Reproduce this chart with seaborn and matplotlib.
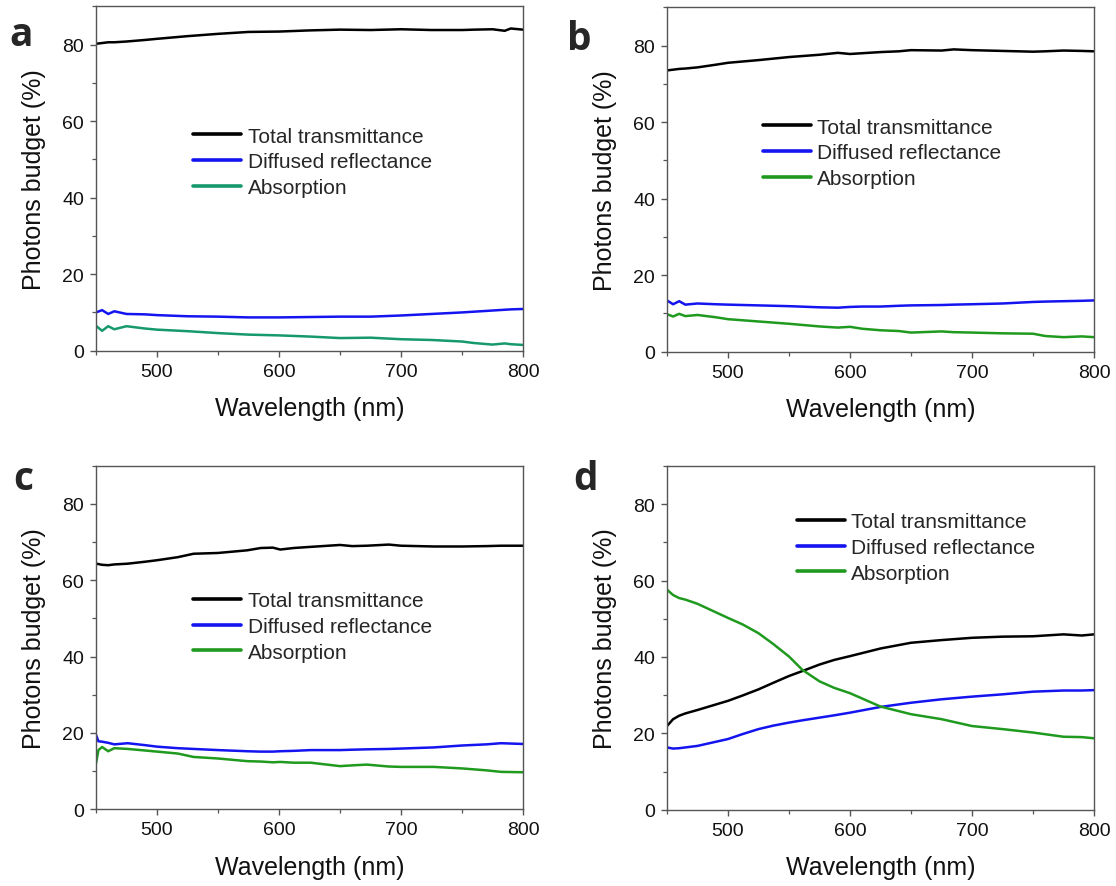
import numpy as np
import pandas as pd
import matplotlib
matplotlib.use("Agg")
import matplotlib.pyplot as plt
from matplotlib.lines import Line2D
import seaborn as sns

# ---------------- data ----------------
series_names = ["Total transmittance", "Diffused reflectance", "Absorption"]
panel_letters = ["a", "b", "c", "d"]
x_ticks = [500, 600, 700, 800]
y_ticks = [0, 20, 40, 60, 80]

# panel a
wl_a = [450, 455, 460, 465, 475, 490, 500, 525, 550, 575, 600, 625, 650, 675, 700, 725, 750, 760, 775, 785, 790, 800]
T_a = [80.2, 80.4, 80.6, 80.6, 80.8, 81.2, 81.5, 82.2, 82.8, 83.3, 83.4, 83.7, 83.9, 83.8, 84.0, 83.8, 83.8, 83.9, 84.0, 83.6, 84.2, 83.9]
D_a = [10.0, 10.6, 9.6, 10.3, 9.6, 9.5, 9.3, 9.0, 8.9, 8.7, 8.7, 8.8, 8.9, 8.9, 9.2, 9.6, 10.0, 10.2, 10.5, 10.7, 10.8, 10.9]
A_a = [6.5, 5.2, 6.4, 5.6, 6.4, 5.8, 5.5, 5.1, 4.6, 4.2, 4.0, 3.7, 3.3, 3.4, 3.0, 2.8, 2.4, 2.0, 1.6, 1.9, 1.7, 1.5]

# panel b
wl_b = [450, 455, 460, 465, 475, 490, 500, 525, 550, 575, 590, 600, 610, 625, 640, 650, 675, 685, 700, 725, 750, 760, 775, 790, 800]
T_b = [73.5, 73.7, 73.9, 74.0, 74.3, 75.0, 75.5, 76.2, 77.0, 77.6, 78.1, 77.8, 78.0, 78.3, 78.5, 78.8, 78.7, 79.0, 78.8, 78.6, 78.4, 78.5, 78.7, 78.6, 78.5]
D_b = [13.4, 12.4, 13.2, 12.3, 12.6, 12.4, 12.3, 12.1, 11.9, 11.6, 11.5, 11.7, 11.8, 11.8, 12.0, 12.1, 12.2, 12.3, 12.4, 12.6, 13.0, 13.1, 13.2, 13.3, 13.4]
A_b = [9.8, 9.2, 9.9, 9.3, 9.6, 9.0, 8.5, 7.9, 7.3, 6.6, 6.3, 6.5, 6.0, 5.6, 5.4, 5.0, 5.3, 5.1, 5.0, 4.8, 4.7, 4.1, 3.8, 4.0, 3.8]

# panel c
wl_c = [450, 452, 455, 460, 465, 476, 490, 500, 517, 530, 550, 574, 585, 595, 601, 612, 626, 650, 660, 672, 690, 700, 727, 750, 770, 782, 800]
T_c = [64.3, 64.2, 64.0, 63.9, 64.1, 64.3, 64.8, 65.2, 66.0, 66.9, 67.1, 67.8, 68.4, 68.5, 68.0, 68.4, 68.7, 69.2, 68.9, 69.0, 69.3, 69.0, 68.8, 68.8, 68.9, 69.0, 69.0]
D_c = [19.5, 17.8, 17.7, 17.4, 17.0, 17.3, 16.8, 16.4, 16.0, 15.8, 15.5, 15.2, 15.1, 15.1, 15.2, 15.3, 15.5, 15.5, 15.6, 15.7, 15.8, 15.9, 16.2, 16.7, 17.0, 17.3, 17.1]
A_c = [12.0, 15.5, 16.3, 15.2, 16.0, 15.8, 15.4, 15.1, 14.6, 13.7, 13.3, 12.6, 12.5, 12.3, 12.4, 12.2, 12.2, 11.3, 11.5, 11.7, 11.2, 11.1, 11.1, 10.7, 10.2, 9.8, 9.7]

# panel d
wl_d = [450, 455, 460, 465, 475, 500, 512, 525, 537, 550, 561, 575, 587, 600, 625, 650, 675, 700, 725, 750, 775, 790, 800]
T_d = [21.9, 23.7, 24.6, 25.2, 26.1, 28.5, 29.9, 31.5, 33.2, 35.0, 36.3, 38.0, 39.2, 40.2, 42.2, 43.7, 44.4, 45.0, 45.3, 45.4, 45.9, 45.6, 45.9]
D_d = [16.3, 16.0, 16.1, 16.3, 16.7, 18.5, 19.8, 21.1, 22.0, 22.8, 23.4, 24.1, 24.7, 25.4, 26.9, 28.0, 28.9, 29.6, 30.2, 30.9, 31.2, 31.2, 31.3]
A_d = [57.6, 56.2, 55.4, 55.0, 53.9, 50.2, 48.5, 46.2, 43.4, 40.1, 36.6, 33.6, 31.9, 30.5, 27.0, 25.0, 23.7, 21.9, 21.1, 20.2, 19.1, 19.0, 18.7]

panels = [
    (wl_a, T_a, D_a, A_a),
    (wl_b, T_b, D_b, A_b),
    (wl_c, T_c, D_c, A_c),
    (wl_d, T_d, D_d, A_d),
]

# ---------------- style ----------------
sns.set_style("ticks")
plt.rcParams["font.family"] = ["Liberation Sans", "DejaVu Sans"]

green_a = "#16996c"
green_other = "#1f9a1f"
blue = "#1414f0"
palettes = [
    {"Total transmittance": "black", "Diffused reflectance": blue, "Absorption": green_a},
    {"Total transmittance": "black", "Diffused reflectance": blue, "Absorption": green_other},
    {"Total transmittance": "black", "Diffused reflectance": blue, "Absorption": green_other},
    {"Total transmittance": "black", "Diffused reflectance": blue, "Absorption": green_other},
]

W, H = 1116, 887
fig = plt.figure(figsize=(W / 100, H / 100), dpi=100)

# axes rectangles in pixels: left, top, right, bottom
rects_px = [
    (96, 7.3, 523, 351.7),
    (667, 8.3, 1094, 352.7),
    (96, 466.5, 523, 810.3),
    (667, 466.9, 1094, 810.7),
]
legend_anchor = [(0.228, 0.548), (0.225, 0.577), (0.228, 0.532), (0.304, 0.763)]
letter_pos = [(9, 46), (567, 50), (13, 490), (573, 490)]

spine_col = "#555555"

for i, (wl, T, D, A) in enumerate(panels):
    l, t, r, b = rects_px[i]
    ax = fig.add_axes([l / W, (H - b) / H, (r - l) / W, (b - t) / H])
    df = pd.DataFrame({
        "Wavelength": list(wl) * 3,
        "Value": list(T) + list(D) + list(A),
        "Series": [series_names[0]] * len(wl) + [series_names[1]] * len(wl) + [series_names[2]] * len(wl),
    })
    sns.lineplot(data=df, x="Wavelength", y="Value", hue="Series", palette=palettes[i],
                 hue_order=series_names, estimator=None, sort=False, legend=False,
                 linewidth=1.8, ax=ax)
    ax.set_xlim(450, 800)
    ax.set_ylim(0, 90)
    ax.set_xticks(x_ticks)
    ax.set_xticks(np.arange(450, 801, 50), minor=True)
    ax.set_yticks(y_ticks)
    ax.set_yticks(np.arange(10, 91, 20), minor=True)
    ax.tick_params(axis="both", which="major", direction="out", length=4.5, width=1.0,
                   color=spine_col, labelsize=14, pad=4, labelcolor="#111111")
    ax.tick_params(axis="both", which="minor", direction="out", length=2.8, width=0.9,
                   color=spine_col)
    ax.tick_params(top=False, right=False, which="both")
    for s in ax.spines.values():
        s.set_visible(True)
        s.set_color(spine_col)
        s.set_linewidth(1.0)
    ax.set_xlabel("Wavelength (nm)", fontsize=18, labelpad=12, color="#111111")
    ax.set_ylabel("Photons budget (%)", fontsize=18, labelpad=12, color="#111111")

    handles = [Line2D([0], [0], color=palettes[i][n], lw=2.6) for n in series_names]
    ax.legend(handles, series_names, loc="center left", bbox_to_anchor=legend_anchor[i],
              frameon=False, borderpad=0, borderaxespad=0, handlelength=2.3,
              handletextpad=0.3, labelspacing=0.33, fontsize=15)

    lx, ly = letter_pos[i]
    fig.text(lx / W, 1 - ly / H, panel_letters[i], fontsize=28, fontweight="bold",
             family=["Open Sans", "DejaVu Sans"], va="baseline", ha="left")

fig.savefig("out.png", dpi=100)
